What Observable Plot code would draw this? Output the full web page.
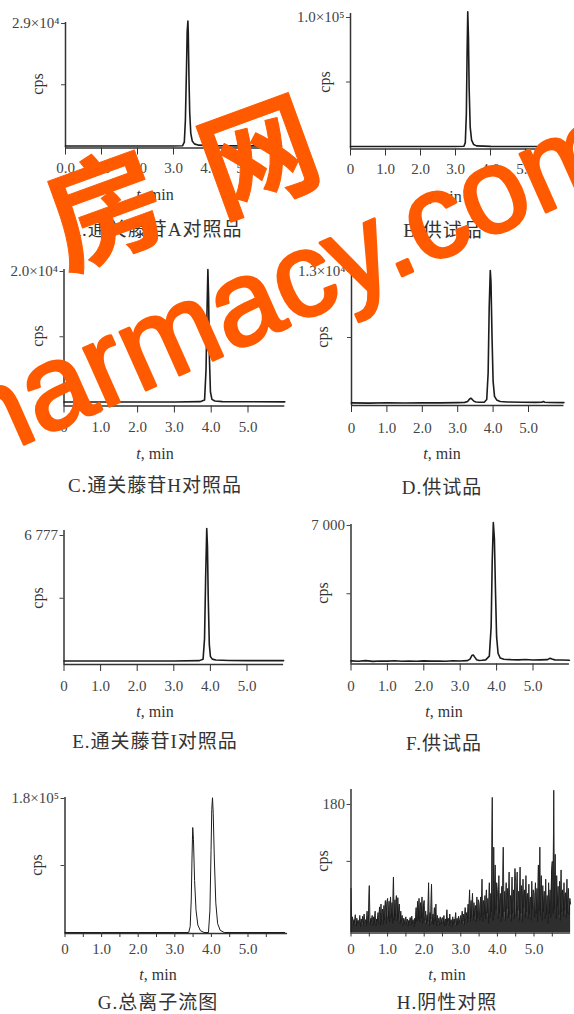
<!DOCTYPE html>
<html>
<head>
<meta charset="utf-8">
<script src="https://cdn.jsdelivr.net/npm/d3@7"></script>
<script src="https://cdn.jsdelivr.net/npm/@observablehq/plot@0.6"></script>
<style>
  html, body { margin: 0; padding: 0; background: #fff; }
  #root { position: relative; width: 574px; height: 1014px; overflow: hidden; background: #fff; }
  .lbl { position: absolute; white-space: nowrap; color: #333; font-family: "Liberation Serif", "Noto Sans CJK SC", serif; }
</style>
</head>
<body>
<div id="root"></div>
<script>
// ---------------- DATA ----------------
const captions = ["A.通关藤苷A对照品", "B.供试品", "C.通关藤苷H对照品", "D.供试品", "E.通关藤苷I对照品", "F.供试品", "G.总离子流图", "H.阴性对照"];
const xTicks = [0, 1, 2, 3, 4, 5];
const xTickLabelsA = ["0.0", "1.0", "2.0", "3.0", "4.0", "5.0"];
const xTickLabels = ["0", "1.0", "2.0", "3.0", "4.0", "5.0"];
const xMinorTicks = [0.5, 1.5, 2.5, 3.5, 4.5, 5.5];
const yMaxValues = [29000, 100000, 20000, 13000, 6777, 7000, 180000, 180];
const yMidValues = [14500, 50000, 10000, 6500, 3388.5, 3500, 90000, 100];
const yMaxLabels = ["2.9×10⁴", "1.0×10⁵", "2.0×10⁴", "1.3×10⁴", "6 777", "7 000", "1.8×10⁵", "180"];
const yLabel = "cps";
const xLabelUnit = ", min";

const aTime = [0, 1, 2, 3, 3.25, 3.30, 3.33, 3.36, 3.38, 3.40, 3.41, 3.43, 3.45, 3.48, 3.52, 3.58, 3.7, 4, 5, 6];
const aCps  = [0, 0, 0, 0, 50, 900, 6000, 18000, 27000, 29600, 27000, 16000, 8000, 3000, 1200, 500, 200, 80, 30, 20];

const bTime = [0, 1, 2, 3, 3.24, 3.28, 3.31, 3.33, 3.35, 3.37, 3.39, 3.42, 3.46, 3.52, 3.6, 4, 5, 5.9];
const bCps  = [0, 0, 0, 0, 200, 3000, 25000, 70000, 104500, 85000, 45000, 15000, 5000, 1500, 500, 100, 0, 0];

const cTime = [0, 1, 2, 3, 3.7, 3.82, 3.86, 3.89, 3.91, 3.93, 3.95, 3.98, 4.02, 4.1, 4.3, 5, 6];
const cCps  = [0, 0, 0, 0, 50, 300, 5000, 15000, 20300, 16000, 7000, 1500, 400, 150, 60, 30, 20];

const dTime = [0, 0.5, 1, 1.5, 2, 2.5, 3, 3.2, 3.28, 3.33, 3.37, 3.41, 3.46, 3.52, 3.6, 3.75, 3.82, 3.86, 3.89, 3.92, 3.94, 3.97, 4.0, 4.04, 4.1, 4.2, 4.4, 4.8, 5.2, 5.38, 5.42, 5.46, 5.6, 6.0];
const dCps  = [60, 40, 70, 50, 80, 60, 90, 110, 200, 420, 520, 400, 220, 150, 120, 130, 400, 3000, 9500, 13100, 12000, 6500, 2200, 700, 350, 200, 150, 120, 110, 130, 200, 130, 100, 90];

const eTime = [0, 1, 2, 3, 3.7, 3.80, 3.84, 3.87, 3.90, 3.92, 3.94, 3.97, 4.0, 4.05, 4.15, 4.5, 5, 6];
const eCps  = [0, 0, 0, 0, 20, 100, 1200, 4500, 7150, 6200, 3500, 900, 250, 100, 50, 30, 20, 20];

const fTime = [0, 0.2, 0.4, 0.6, 0.8, 1.0, 1.2, 1.4, 1.6, 1.8, 2.0, 2.2, 2.4, 2.6, 2.8, 3.0, 3.2, 3.27, 3.32, 3.36, 3.40, 3.45, 3.52, 3.6, 3.7, 3.8, 3.85, 3.88, 3.91, 3.94, 3.97, 4.0, 4.04, 4.1, 4.2, 4.4, 4.6, 4.8, 5.0, 5.2, 5.4, 5.47, 5.52, 5.6, 5.8, 6.0];
const fCps  = [60, 40, 70, 30, 55, 45, 65, 35, 50, 40, 60, 45, 55, 40, 65, 50, 70, 150, 330, 360, 250, 120, 80, 90, 110, 300, 1800, 5200, 7150, 6300, 3600, 1300, 450, 200, 140, 120, 110, 130, 100, 110, 120, 190, 150, 110, 100, 90];

const gTime = [0, 1, 2, 3, 3.38, 3.42, 3.45, 3.47, 3.49, 3.51, 3.54, 3.58, 3.63, 3.70, 3.8, 3.92, 3.96, 3.99, 4.01, 4.03, 4.05, 4.08, 4.12, 4.17, 4.24, 4.35, 5, 6];
const gCps  = [0, 0, 0, 0, 0, 8000, 45000, 100000, 141000, 125000, 70000, 30000, 10000, 2500, 0, 0, 30000, 110000, 165000, 181000, 160000, 100000, 40000, 12000, 3000, 0, 0, 0];

// H: negative control, sampled every 0.02 min
const hStep = 0.02;
const hCps = [
  62, 12, 22, 10, 18, 14, 25, 9, 20, 13, 17, 11, 24, 8, 19, 14, 23, 10, 26, 12, 18, 9, 30, 13, 21,
  66, 11, 20, 15, 24, 10, 22, 13, 30, 9, 19, 16, 28, 12, 36, 10, 40, 14, 33, 11, 38, 17, 45, 13, 40,
  48, 19, 44, 15, 50, 21, 42, 13, 78, 17, 46, 22, 52, 16, 49, 20, 40, 12, 30, 15, 24, 10, 20, 13, 18,
  22, 11, 19, 9, 17, 14, 21, 10, 23, 13, 18, 8, 20, 12, 35, 16, 44, 19, 48, 15, 42, 21, 50, 13, 38,
  45, 17, 30, 12, 25, 15, 70, 10, 28, 19, 68, 13, 26, 11, 35, 16, 40, 9, 24, 14, 20, 10, 22, 12, 18,
  21, 13, 24, 9, 19, 11, 32, 15, 20, 10, 26, 13, 18, 8, 22, 12, 19, 14, 28, 10, 20, 11, 23, 15, 18,
  24, 13, 30, 16, 26, 11, 35, 17, 28, 14, 40, 19, 60, 15, 45, 21, 55, 17, 42, 23, 38, 15, 50, 20, 46,
  40, 17, 50, 22, 75, 15, 45, 25, 52, 19, 60, 27, 48, 13, 70, 21, 55, 29, 190, 17, 120, 25, 95, 32, 70,
  60, 19, 80, 27, 55, 15, 65, 22, 120, 29, 58, 17, 70, 33, 62, 21, 85, 25, 52, 16, 78, 27, 60, 19, 90,
  70, 23, 85, 31, 58, 17, 92, 27, 66, 15, 75, 35, 60, 21, 80, 29, 55, 19, 68, 25, 50, 17, 72, 33, 60,
  55, 21, 70, 27, 62, 15, 95, 31, 120, 23, 80, 17, 66, 29, 58, 19, 75, 25, 52, 13, 70, 27, 60, 21, 85,
  100, 27, 200, 33, 110, 19, 80, 37, 65, 25, 72, 17, 88, 29, 60, 23, 70, 31, 56, 21, 75, 27, 62, 25, 48,
  40
];
const hTime = hCps.map((_, i) => +(i * hStep).toFixed(2));

const seriesTime = [aTime, bTime, cTime, dTime, eTime, fTime, gTime, hTime];
const seriesCps  = [aCps, bCps, cCps, dCps, eCps, fCps, gCps, hCps];

// ---------------- LAYOUT (pixels, styles) ----------------
const panels = [
  {left: 0,   top: 0,   h: 255, axisX: 65,   ppm: 36,   xEnd: 6.0,  yAxisTop: 22,  yTop: 23,  y0: 145.5, xAxis: 147.5, tickLen: 7, labelY: 167, cx: 155, tminY: 195, capY: 227, cpsX: 38,  minor: false, lw: 1.6, fill: false},
  {left: 287, top: 0,   h: 255, axisX: 350,  ppm: 35,   xEnd: 5.9,  yAxisTop: 13,  yTop: 17,  y0: 146,   xAxis: 148.5, tickLen: 7, labelY: 168, cx: 443, tminY: 197, capY: 228, cpsX: 325, minor: false, lw: 1.6, fill: false},
  {left: 0,   top: 255, h: 255, axisX: 63.5, ppm: 36.8, xEnd: 6.0,  yAxisTop: 269, yTop: 271, y0: 401.5, xAxis: 405.5, tickLen: 7, labelY: 426, cx: 155, tminY: 454, capY: 483, cpsX: 38,  minor: false, lw: 1.6, fill: false},
  {left: 287, top: 255, h: 255, axisX: 351,  ppm: 35.4, xEnd: 6.0,  yAxisTop: 270, yTop: 271, y0: 403,   xAxis: 405,   tickLen: 7, labelY: 427, cx: 442, tminY: 454, capY: 485, cpsX: 323, minor: false, lw: 1.6, fill: false},
  {left: 0,   top: 510, h: 255, axisX: 63.5, ppm: 36.6, xEnd: 6.0,  yAxisTop: 530, yTop: 535, y0: 660.5, xAxis: 664,   tickLen: 7, labelY: 685, cx: 155, tminY: 712, capY: 739, cpsX: 38,  minor: false, lw: 1.6, fill: false},
  {left: 287, top: 510, h: 255, axisX: 350.5,ppm: 36.4, xEnd: 6.0,  yAxisTop: 524, yTop: 525, y0: 661.5, xAxis: 663.5, tickLen: 7, labelY: 685, cx: 444, tminY: 712, capY: 741, cpsX: 323, minor: false, lw: 1.6, fill: false},
  {left: 0,   top: 765, h: 249, axisX: 64.5, ppm: 36.6, xEnd: 6.08, yAxisTop: 797, yTop: 798, y0: 932,   xAxis: 933,   tickLen: 4, labelY: 948, cx: 158, tminY: 975, capY: 1000, cpsX: 37, minor: true,  lw: 1.0, fill: false},
  {left: 287, top: 765, h: 249, axisX: 350.5,ppm: 36.6, xEnd: 6.0,  yAxisTop: 789, yTop: 804, y0: 932,   xAxis: 932.5, tickLen: 4, labelY: 948, cx: 447, tminY: 975, capY: 1000, cpsX: 323, minor: true,  lw: 0.9, fill: true}
];
const W = 287;
const serif = '"Liberation Serif", "DejaVu Serif", serif';
const inkColor = "#1c1c1c";
const axisColor = "#333";
const textColor = "#444";

const root = document.getElementById("root");

panels.forEach((p, i) => {
  const max = yMaxValues[i], mid = yMidValues[i];
  const rows = seriesTime[i].map((t, k) => ({t, v: seriesCps[i][k]}));
  const labels = i === 0 ? xTickLabelsA : xTickLabels;
  const axisValue = max * (p.y0 - p.xAxis) / (p.y0 - p.yTop);
  const marks = [
    Plot.ruleX([0], {stroke: axisColor, strokeWidth: 1.5}),
    Plot.ruleY([axisValue], {stroke: axisColor, strokeWidth: 1.5}),
    Plot.axisX({ticks: xTicks, tickFormat: d => labels[xTicks.indexOf(d)], tickSize: p.tickLen,
      tickPadding: (p.labelY - p.xAxis) - p.tickLen - 5.4, label: null, fontSize: 15, stroke: axisColor}),
    Plot.axisY({ticks: [mid, max], tickFormat: d => d === max ? yMaxLabels[i] : "", tickSize: 4, tickPadding: 2, label: null, fontSize: 15})
  ];
  if (p.fill) marks.push(Plot.areaY(rows, {x: "t", y: "v", fill: inkColor, fillOpacity: 0.92}));
  marks.push(Plot.line(rows, {x: "t", y: "v", stroke: inkColor, strokeWidth: p.lw, curve: "linear"}));
  if (p.minor) marks.push(Plot.axisX({ticks: xMinorTicks, tickFormat: () => "", tickSize: p.tickLen, label: null, stroke: axisColor}));
  const svg = Plot.plot({
    width: W,
    height: p.h,
    marginLeft: p.axisX - p.left,
    marginRight: p.left + W - (p.axisX + p.xEnd * p.ppm),
    marginTop: p.yAxisTop - p.top,
    marginBottom: p.top + p.h - p.xAxis,
    x: {domain: [0, p.xEnd], label: null},
    y: {domain: [0, max], range: [p.y0 - p.top, p.yTop - p.top], label: null},
    style: {fontFamily: serif, fontSize: "15px", color: textColor, background: "transparent", overflow: "visible"},
    marks
  });
  svg.style.position = "absolute";
  svg.style.left = p.left + "px";
  svg.style.top = p.top + "px";
  root.appendChild(svg);

  // y label (cps), rotated
  const midPx = p.y0 - (p.y0 - p.yTop) * (mid / max);
  const cps = document.createElement("div");
  cps.className = "lbl";
  cps.textContent = yLabel;
  cps.style.fontSize = "16px";
  cps.style.left = p.cpsX + "px";
  cps.style.top = midPx + "px";
  cps.style.transform = "translate(-50%, -50%) rotate(-90deg)";
  root.appendChild(cps);

  // x label
  const xl = document.createElement("div");
  xl.className = "lbl";
  xl.innerHTML = "<i>t</i>" + xLabelUnit;
  xl.style.fontSize = "16px";
  xl.style.left = p.cx + "px";
  xl.style.top = p.tminY + "px";
  xl.style.transform = "translate(-50%, -50%)";
  root.appendChild(xl);

  // caption
  const cap = document.createElement("div");
  cap.className = "lbl";
  cap.textContent = captions[i];
  cap.style.fontSize = "19px";
  cap.style.letterSpacing = "1px";
  cap.style.left = p.cx + "px";
  cap.style.top = p.capY + "px";
  cap.style.transform = "translate(-50%, -50%)";
  root.appendChild(cap);
});

// watermark overlay
const ns = "http://www.w3.org/2000/svg";
const wm = document.createElementNS(ns, "svg");
wm.setAttribute("width", 574);
wm.setAttribute("height", 1014);
wm.style.position = "absolute";
wm.style.left = "0px";
wm.style.top = "0px";
wm.style.pointerEvents = "none";
const wmColor = "#ff5a00";
function wmText(str, x, y, size, rot, family, weight, anchor, baseline, sw) {
  const t = document.createElementNS(ns, "text");
  t.setAttribute("x", x);
  t.setAttribute("y", y);
  t.setAttribute("transform", `rotate(${rot},${x},${y})`);
  t.setAttribute("font-size", size);
  t.setAttribute("font-family", family);
  t.setAttribute("font-weight", weight);
  t.setAttribute("fill", wmColor);
  t.setAttribute("stroke", wmColor);
  t.setAttribute("stroke-width", sw);
  t.setAttribute("stroke-linejoin", "round");
  t.setAttribute("text-anchor", anchor);
  if (baseline) t.setAttribute("dominant-baseline", baseline);
  t.textContent = str;
  wm.appendChild(t);
}
wmText("房", 102, 201, 116, -20, '"Noto Sans CJK SC", sans-serif', "bold", "middle", "central", 1);
wmText("网", 256, 148, 116, -20, '"Noto Sans CJK SC", sans-serif', "bold", "middle", "central", 1);
wmText("pharmacy.com", -81, 491, 120, -24, '"Liberation Sans", Arial, sans-serif', "normal", "start", null, 3);
root.appendChild(wm);
</script>
</body>
</html>
